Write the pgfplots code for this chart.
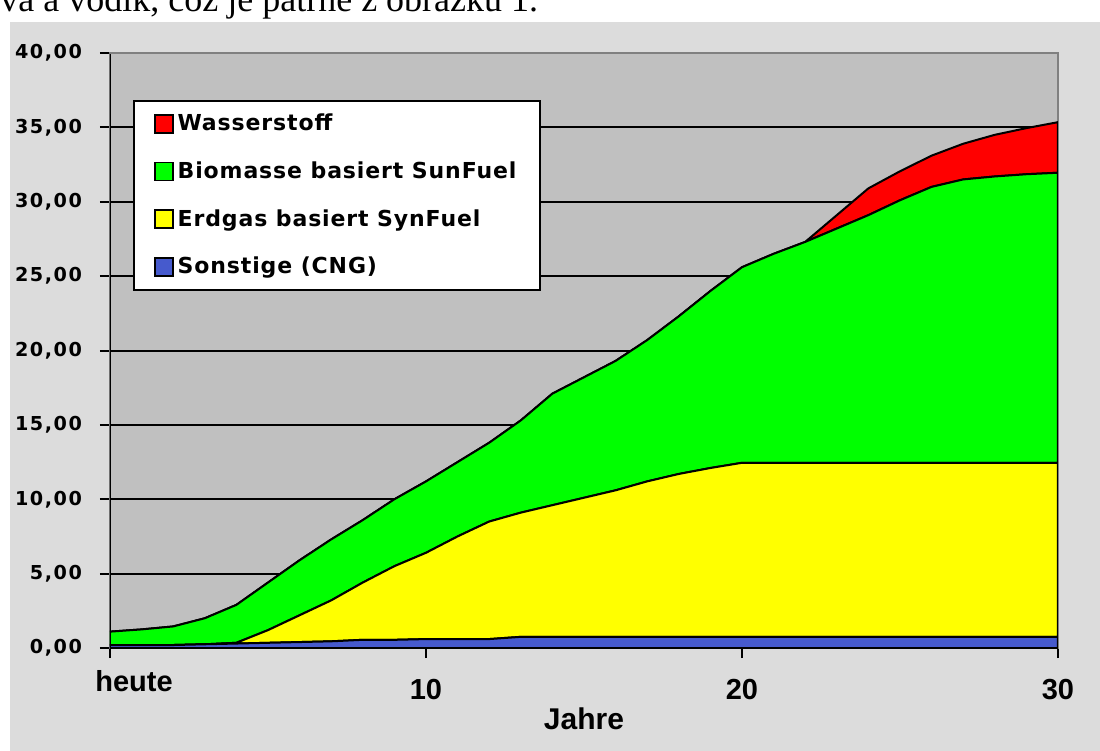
\documentclass[border=0pt]{standalone}
\usepackage{fontspec}
\usepackage{pgfplots}
\pgfplotsset{compat=1.18}
\usepackage{pgfplotstable}
\setmainfont{Liberation Serif}
\newfontfamily\legfont[LetterSpace=4]{DejaVu Sans}
\newfontfamily\tickfont[LetterSpace=8]{DejaVu Sans}
\newfontfamily\xfont{Liberation Sans}

\definecolor{bggray}{HTML}{DCDCDC}
\definecolor{plotgray}{HTML}{C0C0C0}
\definecolor{cH}{HTML}{FF0000}
\definecolor{cBio}{HTML}{00FF00}
\definecolor{cErd}{HTML}{FFFF00}
\definecolor{cCNG}{RGB}{70,90,205}

% layer values (stacked), years from today
\pgfplotstableread{
x  cng   erd    bio    h2
0  0.20  0.00   0.90   0
1  0.20  0.00   1.05   0
2  0.20  0.00   1.25   0
3  0.25  0.00   1.75   0
4  0.30  0.05   2.55   0
5  0.35  0.85   3.20   0
6  0.40  1.80   3.70   0
7  0.45  2.75   4.10   0
8  0.55  3.85   4.20   0
9  0.55  4.95   4.50   0
10 0.60  5.80   4.80   0
11 0.60  6.90   5.00   0
12 0.60  7.90   5.30   0
13 0.75  8.35   6.20   0
14 0.75  8.85   7.50   0
15 0.75  9.35   8.10   0
16 0.75  9.85   8.70   0
17 0.75  10.45  9.50   0
18 0.75  10.95  10.60  0
19 0.75  11.35  11.90  0
20 0.75  11.70  13.15  0
21 0.75  11.70  14.05  0
22 0.75  11.70  14.85  0
23 0.75  11.70  15.75  0.90
24 0.75  11.70  16.65  1.80
25 0.75  11.70  17.65  1.95
26 0.75  11.70  18.55  2.10
27 0.75  11.70  19.05  2.40
28 0.75  11.70  19.25  2.80
29 0.75  11.70  19.40  3.10
30 0.75  11.70  19.50  3.40
}\fuel

\begin{document}
\begin{tikzpicture}
\useasboundingbox (-55pt,-51.5pt) rectangle (495pt,324pt);
\node[anchor=base west, inner sep=0pt, font=\fontsize{18}{20}\selectfont] at (-55pt,318pt)
  {va a vodík, což je patrné z obrázku 1.};
\fill[bggray] (-50pt,-51.5pt) rectangle (495pt,313pt);
\begin{axis}[
  at={(0,0)}, anchor=south west,
  scale only axis, width=474pt, height=297.5pt,
  xmin=0, xmax=30, ymin=0, ymax=40,
  stack plots=y,
  axis background/.style={fill=plotgray},
  axis line style={draw=black!50, line width=1pt},
  xtick={0,10,20,30},
  xticklabels={{\hspace*{24pt}\raisebox{4.5pt}[\height][\depth]{heute}},10,20,30},
  ytick={0,5,...,40},
  yticklabels={{0,00},{5,00},{10,00},{15,00},{20,00},{25,00},{30,00},{35,00},{40,00}},
  xtick pos=bottom, ytick pos=left,
  tick align=outside, major tick length=5pt,
  tick style={black, line width=1pt},
  ymajorgrids, grid style={black, line width=1pt},
  yticklabel style={font=\tickfont\bfseries\fontsize{9.6}{11}\selectfont, anchor=east, xshift=-5.5pt},
  xticklabel style={font=\xfont\bfseries\fontsize{14.5}{16}\selectfont, anchor=north, yshift=-7pt},
  xlabel={Jahre},
  xlabel style={font=\xfont\bfseries\fontsize{15}{17}\selectfont, at={(axis description cs:0.5,0)}, anchor=center, yshift=-35.5pt},
  legend style={at={(rel axis cs:0.0243,0.921)}, anchor=north west,
    draw=black, line width=1pt, fill=white,
    font=\legfont\bfseries\fontsize{11}{12}\selectfont,
    inner xsep=10pt, inner ysep=4.5pt, row sep=10pt},
  legend cell align=left,
  reverse legend,
  legend image code/.code={\draw[#1, line width=0.8pt] (0pt,-4.5pt) rectangle (9pt,4.5pt);},
  every axis plot/.append style={draw=black, line width=1pt},
]
\addplot[fill=cCNG] table[x=x, y=cng] {\fuel} \closedcycle;
\addlegendentry{Sonstige (CNG)}
\addplot[fill=cErd] table[x=x, y=erd] {\fuel} \closedcycle;
\addlegendentry{Erdgas basiert SynFuel}
\addplot[fill=cBio] table[x=x, y=bio] {\fuel} \closedcycle;
\addlegendentry{Biomasse basiert SunFuel}
\addplot[fill=cH] table[x=x, y=h2] {\fuel} \closedcycle;
\addlegendentry{Wasserstoff}
\draw[black!50, line width=1pt] (rel axis cs:0,1) -- (rel axis cs:1,1);
\draw[black, line width=1.2pt] (rel axis cs:0,1) -- (rel axis cs:0,0) -- (rel axis cs:1,0);
\end{axis}
\end{tikzpicture}
\end{document}
